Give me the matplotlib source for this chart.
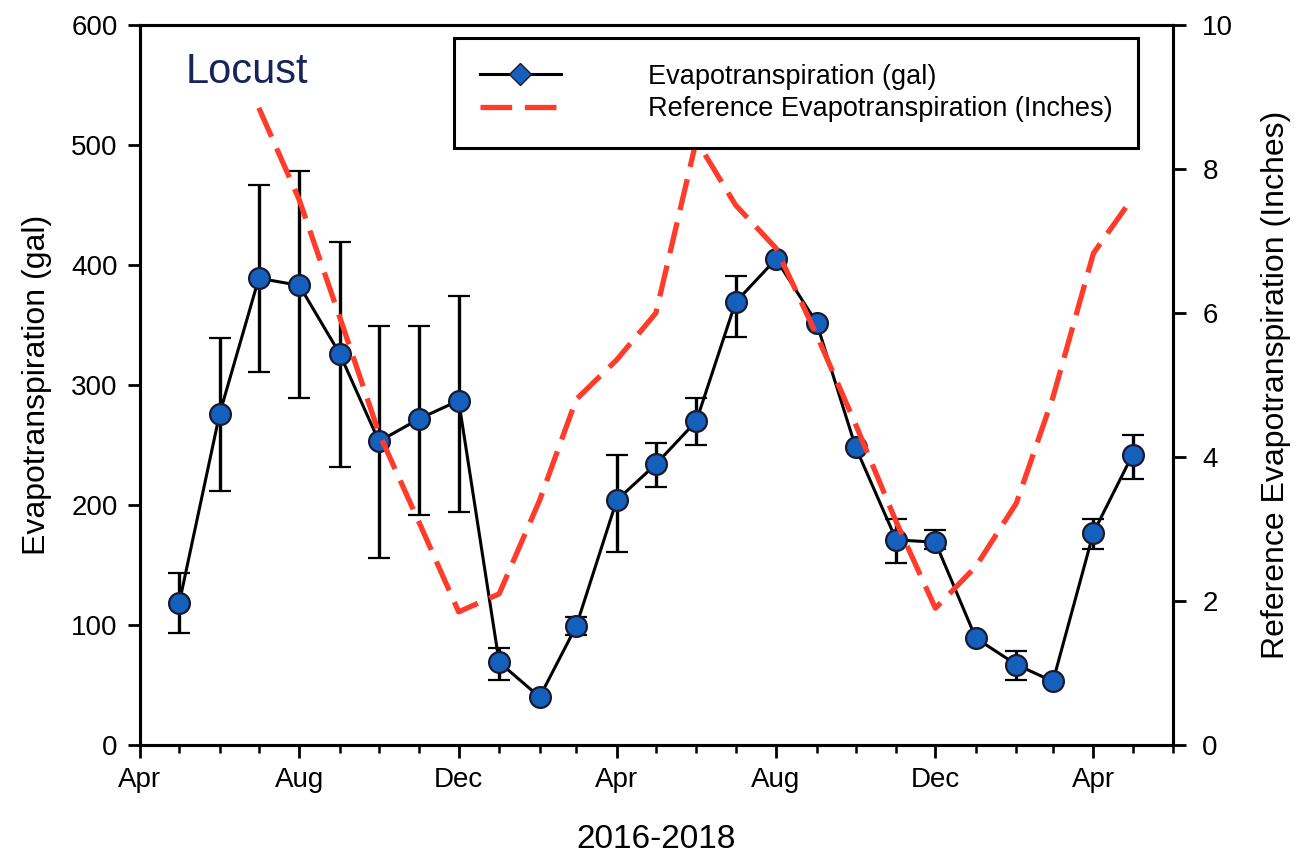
import datetime as dt
import matplotlib
matplotlib.use('Agg')
from matplotlib import pyplot as plt
import matplotlib.dates as mdates
from matplotlib.lines import Line2D

plt.rcParams['font.family'] = ['Liberation Sans', 'DejaVu Sans']

# ---------------- data ----------------
# measured evapotranspiration (gal), monthly May 2016 - May 2018
et_months = [dt.date(2016 + (4 + i) // 12, (4 + i) % 12 + 1, 1) for i in range(25)]
et_gal = [118, 276, 389, 383, 326, 253, 272, 287, 69, 40, 99, 204, 234,
          270, 369, 405, 352, 248, 171, 169, 89, 67, 53, 177, 242]
et_high = [143, 339, 467, 478, 419, 349, 349, 374, 81, 40, 107, 242, 252,
           289, 391, 405, 352, 248, 188, 179, 89, 78, 53, 188, 258]
et_low = [93, 212, 311, 289, 232, 156, 192, 194, 54, 40, 92, 161, 215,
          250, 340, 405, 352, 248, 152, 163, 89, 54, 53, 163, 222]

# reference evapotranspiration (inches), monthly Jul 2016 - May 2018
ref_months = et_months[2:]
ref_in = [8.85, 7.57, 5.94, 4.33, 3.08, 1.85, 2.1, 3.4, 4.8, 5.35, 6.0, 8.4,
          7.5, 6.9, 5.7, 4.45, 3.1, 1.9, 2.48, 3.36, 4.83, 6.83, 7.6]

# ---------------- plot ----------------
fig = plt.figure(figsize=(13.02, 8.63), dpi=100)
ax = fig.add_axes([0.1075, 0.1367, 0.7935, 0.8343])
ax2 = ax.twinx()

yerr = [[v - lo for v, lo in zip(et_gal, et_low)],
        [hi - v for v, hi in zip(et_gal, et_high)]]
ax.errorbar(et_months, et_gal, yerr=yerr, color='black', lw=2.2,
            ecolor='black', elinewidth=2.4, capsize=8, capthick=2.4,
            marker='o', markersize=15, markerfacecolor='#1560bd',
            markeredgecolor='#1a1a2e', markeredgewidth=1.6, zorder=3)

ax2.plot(ref_months, ref_in, color='#ff3b2a', lw=3.8, dashes=(6, 2.4))

ax.set_xlim(dt.date(2016, 4, 1), dt.date(2018, 6, 1))
ax.set_ylim(0, 600)
ax2.set_ylim(0, 10)
ax.set_yticks(range(0, 601, 100))
ax2.set_yticks(range(0, 11, 2))

ax.xaxis.set_major_locator(mdates.MonthLocator(bymonth=[4, 8, 12]))
ax.xaxis.set_minor_locator(mdates.MonthLocator())
ax.xaxis.set_major_formatter(mdates.DateFormatter('%b'))

for a in (ax, ax2):
    for s in a.spines.values():
        s.set_linewidth(2.2)
    a.tick_params(which='major', length=9, width=2, labelsize=20, pad=7)
    a.tick_params(which='minor', length=6, width=1.8)
ax2.tick_params(axis='y', pad=12)

ax.set_xlabel('2016-2018', fontsize=24, labelpad=22)
ax.set_ylabel('Evapotranspiration (gal)', fontsize=23, labelpad=14)
ax2.set_ylabel('Reference Evapotranspiration (Inches)', fontsize=23,
               labelpad=20)

ax.text(0.044, 0.935, 'Locust', transform=ax.transAxes, fontsize=30,
        color='#18245a', ha='left', va='center')

handles = [Line2D([], [], color='black', lw=2.2, marker='D', markersize=11,
                  markerfacecolor='#1560bd', markeredgecolor='#1a1a2e'),
           Line2D([], [], color='#ff3b2a', lw=3.8, dashes=(6, 2.4))]
leg = ax2.legend(handles, ['Evapotranspiration (gal)',
                           'Reference Evapotranspiration (Inches)'],
                 loc='upper right', bbox_to_anchor=(0.966, 0.982),
                 borderaxespad=0, fontsize=19.5, fancybox=False,
                 framealpha=1, edgecolor='black', handlelength=3,
                 handletextpad=3.2, borderpad=0.95, labelspacing=0.25)
leg.get_frame().set_linewidth(2.2)
leg.set_zorder(10)

fig.savefig('out.png', dpi=100)
